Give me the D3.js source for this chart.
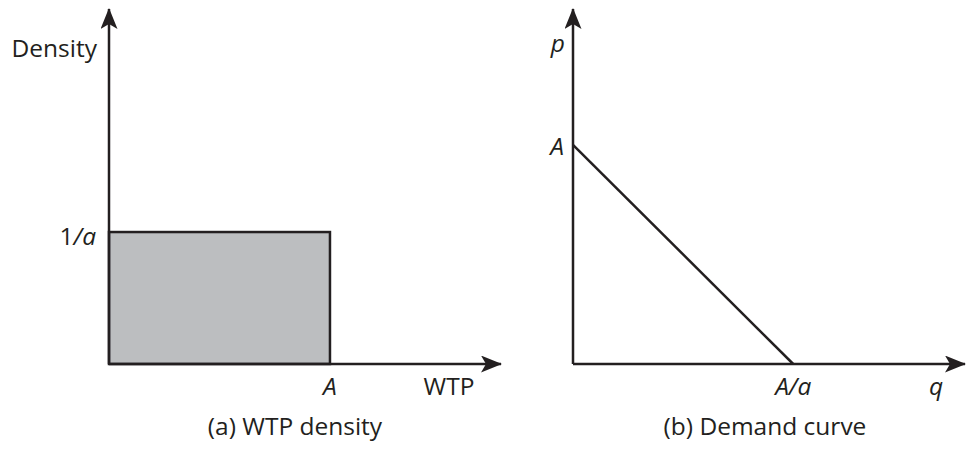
<!DOCTYPE html>
<html>
<head>
<meta charset="utf-8">
<script src="https://cdn.jsdelivr.net/npm/d3@7"></script>
<style>
  body { margin: 0; background: #fff; }
  text { font-family: "Open Sans", "Noto Sans", sans-serif; fill: #231f20; }
</style>
</head>
<body>
<svg id="chart" width="970" height="449"></svg>
<script>
// WTP density (uniform on [0, A], height 1/a)
var densityX = [0, 1];
var densityY = [0.6, 0.6];
// Demand curve p = A - a q
var demandQ = [0, 1];
var demandP = [1, 0];

// axis extents (in data units)
var wtpMax = 1.774, densMax = 1.614;
var qMax = 1.78, pMax = 1.62;

// tick labels
var leftXTicks = [{v: 1, t: [["A", true]]}];
var leftYTicks = [{v: 0.6, t: [["1", false], ["/a", true]]}];
var rightXTicks = [{v: 1, t: [["A/a", true]]}];
var rightYTicks = [{v: 1, t: [["A", true]]}];

var svg = d3.select("#chart");
var ink = "#231f20";

// arrow head
svg.append("defs").append("marker")
    .attr("id", "arrow")
    .attr("viewBox", "0 0 21 17")
    .attr("refX", 20)
    .attr("refY", 8.5)
    .attr("markerUnits", "userSpaceOnUse")
    .attr("markerWidth", 21)
    .attr("markerHeight", 17)
    .attr("orient", "auto")
    .append("path")
    .attr("d", "M0,0 L21,8.5 L0,17 L5,8.5 Z")
    .attr("fill", ink);

function label(g, x, y, parts, anchor) {
    var t = g.append("text")
        .attr("x", x)
        .attr("y", y)
        .attr("text-anchor", anchor)
        .style("font-size", "24.5px");
    parts.forEach(function(p) {
        t.append("tspan")
            .style("font-style", p[1] ? "italic" : "normal")
            .text(p[0]);
    });
    return t;
}

// ---------- Panel (a) ----------
var xa = d3.scaleLinear().domain([0, wtpMax]).range([109, 501]);
var ya = d3.scaleLinear().domain([0, densMax]).range([364, 9]);
var ga = svg.append("g");

ga.append("rect")
    .attr("x", xa(densityX[0]))
    .attr("y", ya(densityY[0]))
    .attr("width", xa(densityX[1]) - xa(densityX[0]))
    .attr("height", ya(0) - ya(densityY[0]))
    .attr("fill", "#bcbec0")
    .attr("stroke", ink)
    .attr("stroke-width", 2.5);

ga.append("line")
    .attr("x1", xa(0)).attr("y1", ya(0))
    .attr("x2", xa(wtpMax)).attr("y2", ya(0))
    .attr("stroke", ink).attr("stroke-width", 2.5)
    .attr("marker-end", "url(#arrow)");
ga.append("line")
    .attr("x1", xa(0)).attr("y1", ya(0))
    .attr("x2", xa(0)).attr("y2", ya(densMax))
    .attr("stroke", ink).attr("stroke-width", 2.5)
    .attr("marker-end", "url(#arrow)");

leftXTicks.forEach(function(d) { label(ga, xa(d.v), 395, d.t, "middle"); });
leftYTicks.forEach(function(d) { label(ga, 96, ya(d.v) + 13, d.t, "end"); });
label(ga, 97, 57, [["Density", false]], "end");
label(ga, 449, 395, [["WTP", false]], "middle");
label(ga, 295, 435, [["(a) WTP density", false]], "middle");

// ---------- Panel (b) ----------
var xb = d3.scaleLinear().domain([0, qMax]).range([573, 965]);
var yb = d3.scaleLinear().domain([0, pMax]).range([364, 9]);
var gb = svg.append("g");

gb.append("path")
    .datum(d3.zip(demandQ, demandP))
    .attr("d", d3.line().x(function(d) { return xb(d[0]); }).y(function(d) { return yb(d[1]); }))
    .attr("fill", "none")
    .attr("stroke", ink)
    .attr("stroke-width", 2.5);

gb.append("line")
    .attr("x1", xb(0)).attr("y1", yb(0))
    .attr("x2", xb(qMax)).attr("y2", yb(0))
    .attr("stroke", ink).attr("stroke-width", 2.5)
    .attr("marker-end", "url(#arrow)");
gb.append("line")
    .attr("x1", xb(0)).attr("y1", yb(0))
    .attr("x2", xb(0)).attr("y2", yb(pMax))
    .attr("stroke", ink).attr("stroke-width", 2.5)
    .attr("marker-end", "url(#arrow)");

rightXTicks.forEach(function(d) { label(gb, xb(d.v), 395, d.t, "middle"); });
rightYTicks.forEach(function(d) { label(gb, 564, yb(d.v) + 10, d.t, "end"); });
label(gb, 565, 52, [["p", true]], "end");
label(gb, 936, 395, [["q", true]], "middle");
label(gb, 765, 435, [["(b) Demand curve", false]], "middle");
</script>
</body>
</html>
